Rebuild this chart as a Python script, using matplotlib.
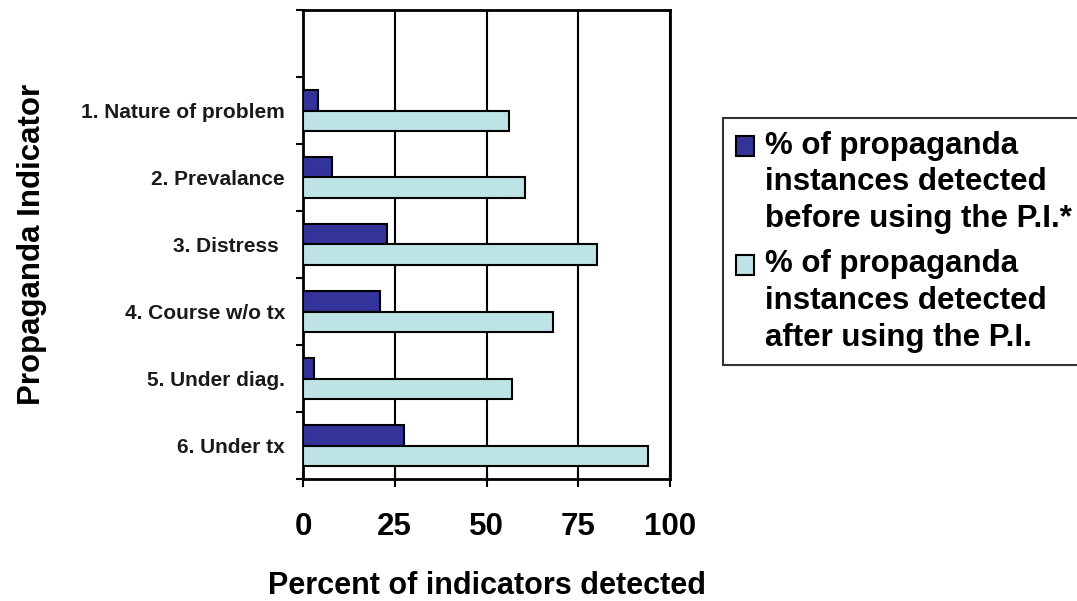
import matplotlib
matplotlib.use("Agg")
import matplotlib.pyplot as plt
import numpy as np
from matplotlib.patches import Patch, Rectangle
from matplotlib.legend_handler import HandlerPatch

categories = ["1. Nature of problem", "2. Prevalance", "3. Distress ", "4. Course w/o tx",
              "5. Under diag.", "6. Under tx"]
before = [4, 8, 23, 21, 3, 27.5]
after = [56, 60.5, 80, 68, 57, 94]
legend_labels = ["% of propaganda\ninstances detected\nbefore using the P.I.*",
                 "% of propaganda\ninstances detected\nafter using the P.I."]
xticks = [0, 25, 50, 75, 100]

plt.rcParams['font.family'] = ['Liberation Sans', 'DejaVu Sans']

fig = plt.figure(figsize=(10.77, 6.01), dpi=100)
ax = fig.add_axes([303/1077, 1-479/601, (670-303)/1077, (479-10)/601])

n = len(categories)
ypos = np.array([n - 1 - i for i in range(n)], dtype=float)
h = 0.3
dark = "#333399"
light = "#BDE3E4"
ax.barh(ypos + h/2, before, height=h, color=dark, edgecolor="black", linewidth=1.5, zorder=3)
ax.barh(ypos - h/2, after, height=h, color=light, edgecolor="black", linewidth=1.5, zorder=3)

ax.set_xlim(0, 100)
ax.set_ylim(-0.5, n + 0.5)
ax.set_xticks(xticks)
ax.set_xticklabels([str(t) for t in xticks], fontsize=22.5, fontweight='bold')
ax.tick_params(axis='x', direction='inout', length=12, width=1.5, pad=18)
ax.xaxis.grid(True, color='black', linewidth=1.5, zorder=1)

ax.set_yticks(np.arange(-0.5, n + 1, 1.0))
ax.set_yticklabels([])
ax.set_yticks(ypos, minor=True)
ax.set_yticklabels(categories, minor=True, fontsize=15, fontweight='bold', color='#1a1a1a')
ax.tick_params(axis='y', which='major', direction='out', length=5, width=1.5)
ax.tick_params(axis='y', which='minor', length=0, pad=13)

for s in ax.spines.values():
    s.set_linewidth(2)

ax.set_xlabel("Percent of indicators detected", fontsize=22, fontweight='bold')
ax.xaxis.set_label_coords(0.5, -0.196)
ax.set_ylabel("Propaganda Indicator", fontsize=22.5, fontweight='bold')
ax.yaxis.set_label_coords(-0.697, 0.5)


class TopPatchHandler(HandlerPatch):
    def create_artists(self, legend, orig_handle, xdescent, ydescent, width, height, fontsize, trans):
        shift = fontsize * 1.18
        p = Rectangle((-xdescent, -ydescent + shift), width, height,
                      facecolor=orig_handle.get_facecolor(), edgecolor='black', linewidth=1.5)
        p.set_transform(trans)
        return [p]


handles = [Patch(facecolor=dark, edgecolor='black', linewidth=1.5),
           Patch(facecolor=light, edgecolor='black', linewidth=1.5)]
leg = fig.legend(handles, legend_labels, loc='upper left',
                 bbox_to_anchor=(723/1077, 1-118/601),
                 prop={'weight': 'bold', 'size': 22.5},
                 frameon=True, fancybox=False, edgecolor='black',
                 handlelength=0.6, handleheight=0.6, handletextpad=0.35,
                 borderpad=0.4, labelspacing=0.5, borderaxespad=0,
                 handler_map={Patch: TopPatchHandler()})
for t in leg.get_texts():
    t.set_linespacing(1.29)
leg.get_frame().set_linewidth(1.5)

fig.savefig("out.png", dpi=100)
